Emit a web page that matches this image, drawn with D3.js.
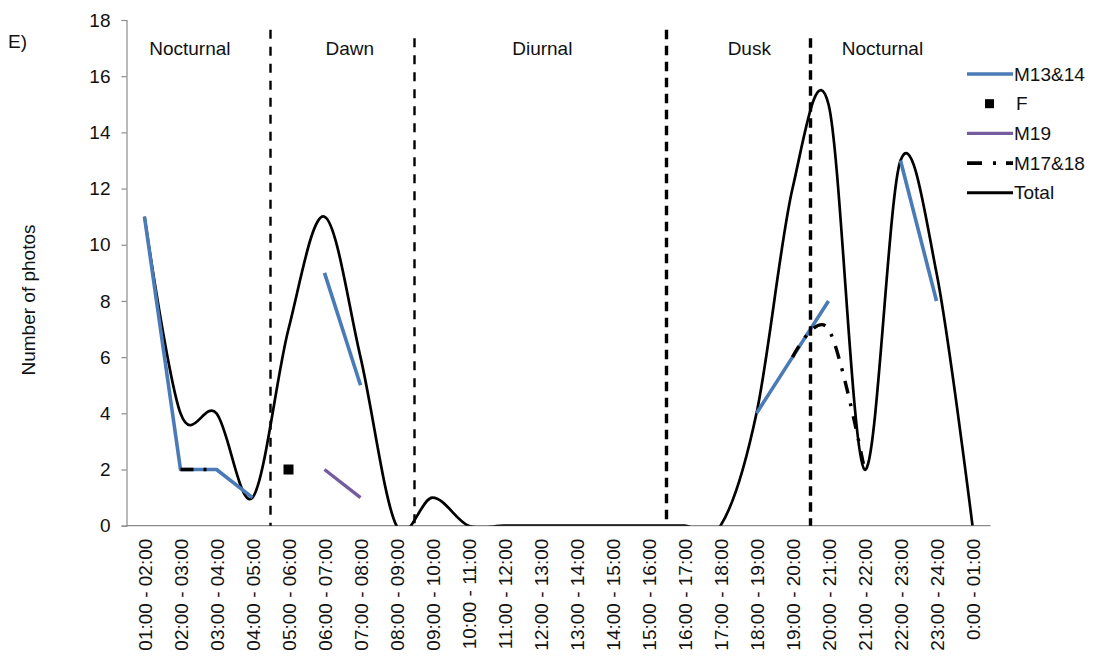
<!DOCTYPE html>
<html>
<head>
<meta charset="utf-8">
<script src="https://cdn.jsdelivr.net/npm/d3@7"></script>
<style>
  html, body { margin: 0; padding: 0; background: #fff; }
  svg { display: block; font-family: "Liberation Sans", Arial, sans-serif; }
</style>
</head>
<body>
<svg id="chart" width="1095" height="660"></svg>
<script>
// Hourly bins
const categories = [
  "01:00 - 02:00", "02:00 - 03:00", "03:00 - 04:00", "04:00 - 05:00",
  "05:00 - 06:00", "06:00 - 07:00", "07:00 - 08:00", "08:00 - 09:00",
  "09:00 - 10:00", "10:00 - 11:00", "11:00 - 12:00", "12:00 - 13:00",
  "13:00 - 14:00", "14:00 - 15:00", "15:00 - 16:00", "16:00 - 17:00",
  "17:00 - 18:00", "18:00 - 19:00", "19:00 - 20:00", "20:00 - 21:00",
  "21:00 - 22:00", "22:00 - 23:00", "23:00 - 24:00", "0:00 - 01:00"
];

// Number of photos per bin (null = no photos recorded for that individual)
const totalValues = [11, 4, 4, 1, 7, 11, 6, 0, 1, 0, 0, 0, 0, 0, 0, 0, 0, 4, 12, 15, 2, 13, 9, 0];
const m1314Values = [11, 2, 2, 1, null, 9, 5, null, null, null, null, null, null, null, null, null, null, 4, 6, 8, null, 13, 8, null];
const fValues     = [null, null, null, null, 2, null, null, null, null, null, null, null, null, null, null, null, null, null, null, null, null, null, null, null];
const m19Values   = [null, null, null, null, null, 2, 1, null, null, null, null, null, null, null, null, null, null, null, null, null, null, null, null, null];
const m1718Values = [null, 2, 2, null, null, null, null, null, null, null, null, null, null, null, null, null, null, null, 6, 7, 2, null, null, null];

const yTicks = [0, 2, 4, 6, 8, 10, 12, 14, 16, 18];

// Activity periods: boundaries in hours after 01:00, labels and their hour positions
const periodBounds = [4, 8, 15, 19];
const periodBoundTops = [17.65, 17.35, 17.65, 17.35];
const periodBoundHeavy = [false, false, true, true];
const periodNames = ["Nocturnal", "Dawn", "Diurnal", "Dusk", "Nocturnal"];
const periodNamePos = [1.76, 6.2, 11.55, 17.3, 21.0];

const legendNames = ["M13&14", "F", "M19", "M17&18", "Total"];

const BLUE = "#4a7bb7";
const PURPLE = "#735d9e";
const AXIS = "#8c8c8c";

const plotLeft = 126.5, plotRight = 990.5, plotTop = 20, plotBottom = 525.7;

const svg = d3.select("#chart");

const x = d3.scalePoint().domain(categories).range([plotLeft, plotRight]).padding(0.5);
const hourX = d3.scaleLinear().domain([0, 24]).range([plotLeft, plotRight]);
const y = d3.scaleLinear().domain([0, 18]).range([plotBottom, plotTop]);

const toPoints = vals => vals.map((v, i) => ({ c: categories[i], v }));

// Clip region for smoothed curves
svg.append("defs").append("clipPath").attr("id", "plotClip")
  .append("rect").attr("x", plotLeft).attr("y", 0)
  .attr("width", plotRight - plotLeft).attr("height", plotBottom);

// Y axis
const yAxis = svg.append("g")
  .attr("transform", `translate(${plotLeft},0)`)
  .call(d3.axisLeft(y).tickValues(yTicks).tickSize(5).tickPadding(11).tickFormat(d3.format("d")));
yAxis.select(".domain").attr("stroke", AXIS).attr("stroke-width", 1.2);
yAxis.selectAll(".tick line").attr("stroke", AXIS).attr("stroke-width", 1.2);
yAxis.selectAll(".tick text").attr("font-size", 19).attr("fill", "#111")
  .attr("font-family", "Liberation Sans, Arial, sans-serif");

// X axis
const xAxis = svg.append("g")
  .attr("transform", `translate(0,${plotBottom})`)
  .call(d3.axisBottom(x).tickSize(0).tickPadding(0));
xAxis.select(".domain").attr("stroke", AXIS).attr("stroke-width", 1.2)
  .attr("d", `M${plotLeft},0H${plotRight}`);
xAxis.selectAll(".tick text")
  .attr("font-size", 19).attr("fill", "#111")
  .attr("font-family", "Liberation Sans, Arial, sans-serif")
  .attr("text-anchor", "end")
  .attr("transform", "rotate(-90)")
  .attr("x", -13).attr("y", 0).attr("dy", "0.35em");

// Line generators
const smooth = d3.line()
  .defined(d => d.v !== null)
  .x(d => x(d.c)).y(d => y(d.v))
  .curve(d3.curveCardinal.tension(0));
const straight = d3.line()
  .defined(d => d.v !== null)
  .x(d => x(d.c)).y(d => y(d.v));

// Total (smoothed)
svg.append("path")
  .attr("clip-path", "url(#plotClip)")
  .attr("d", smooth(toPoints(totalValues)))
  .attr("fill", "none").attr("stroke", "#000").attr("stroke-width", 2.7)
  .attr("stroke-linejoin", "round");

// M13&14
svg.append("path")
  .attr("d", straight(toPoints(m1314Values)))
  .attr("fill", "none").attr("stroke", BLUE).attr("stroke-width", 3.6)
  .attr("stroke-linejoin", "round");

// M19
svg.append("path")
  .attr("d", straight(toPoints(m19Values)))
  .attr("fill", "none").attr("stroke", PURPLE).attr("stroke-width", 3.4);

// F
svg.append("g").selectAll("rect")
  .data(toPoints(fValues).filter(d => d.v !== null))
  .join("rect")
  .attr("x", d => x(d.c) - 5).attr("y", d => y(d.v) - 5)
  .attr("width", 10).attr("height", 10).attr("fill", "#000");

// M17&18 (smoothed, dash-dot)
svg.append("path")
  .attr("clip-path", "url(#plotClip)")
  .attr("d", smooth(toPoints(m1718Values)))
  .attr("fill", "none").attr("stroke", "#000").attr("stroke-width", 3.4)
  .attr("stroke-dasharray", "13,10,3,10");

// Period boundaries
periodBounds.forEach((h, i) => {
  svg.append("line")
    .attr("x1", hourX(h)).attr("x2", hourX(h))
    .attr("y1", y(periodBoundTops[i])).attr("y2", plotBottom)
    .attr("stroke", "#000")
    .attr("stroke-width", periodBoundHeavy[i] ? 3.4 : 2.4)
    .attr("stroke-dasharray", periodBoundHeavy[i] ? "9.5,6.5" : "9,8");
});

// Period names
svg.append("g").selectAll("text")
  .data(periodNames)
  .join("text")
  .attr("x", (d, i) => hourX(periodNamePos[i]))
  .attr("y", 54.5)
  .attr("text-anchor", "middle")
  .attr("font-size", 19).attr("fill", "#111")
  .text(d => d);

// Panel letter
svg.append("text").attr("x", 8).attr("y", 47.5)
  .attr("font-size", 19).attr("fill", "#111").text("E)");

// Y axis title
svg.append("text")
  .attr("transform", "translate(35,300) rotate(-90)")
  .attr("text-anchor", "middle")
  .attr("font-size", 19).attr("fill", "#111")
  .text("Number of photos");

// Legend
const legend = svg.append("g");
const lgX0 = 967, lgX1 = 1013, lgY0 = 74, lgStep = 29.7;
legendNames.forEach((name, i) => {
  const ly = lgY0 + i * lgStep;
  if (name === "M13&14") {
    legend.append("line").attr("x1", lgX0).attr("x2", lgX1).attr("y1", ly).attr("y2", ly)
      .attr("stroke", BLUE).attr("stroke-width", 3.6);
  } else if (name === "F") {
    legend.append("rect").attr("x", 985).attr("y", ly - 4.5).attr("width", 9).attr("height", 9).attr("fill", "#000");
  } else if (name === "M19") {
    legend.append("line").attr("x1", lgX0).attr("x2", lgX1).attr("y1", ly).attr("y2", ly)
      .attr("stroke", PURPLE).attr("stroke-width", 3.4);
  } else if (name === "M17&18") {
    legend.append("line").attr("x1", lgX0).attr("x2", lgX1).attr("y1", ly).attr("y2", ly)
      .attr("stroke", "#000").attr("stroke-width", 3.8)
      .attr("stroke-dasharray", "15,11,3,10");
  } else {
    legend.append("line").attr("x1", lgX0).attr("x2", lgX1).attr("y1", ly).attr("y2", ly)
      .attr("stroke", "#000").attr("stroke-width", 2.9);
  }
  legend.append("text")
    .attr("x", name === "F" ? 1016 : 1014).attr("y", ly).attr("dy", "0.35em")
    .attr("font-size", 19).attr("fill", "#111")
    .text(name);
});
</script>
</body>
</html>
